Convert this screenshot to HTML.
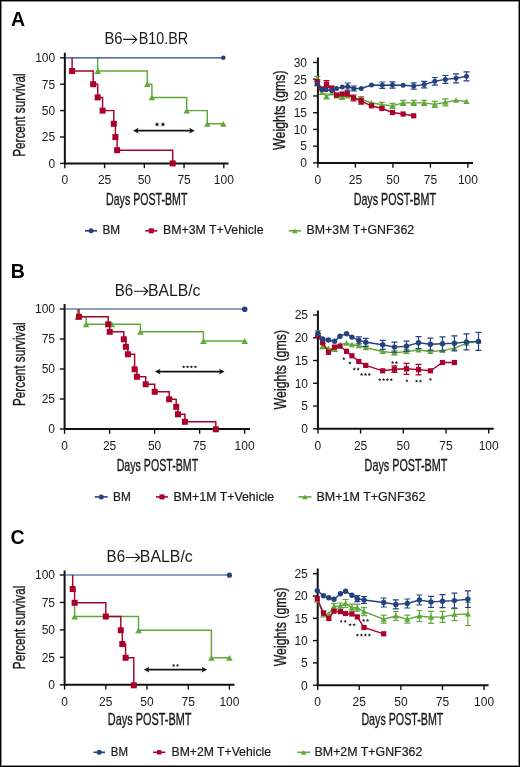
<!DOCTYPE html><html><head><meta charset="utf-8"><style>html,body{margin:0;padding:0;background:#fff;width:520px;height:767px;overflow:hidden}svg{display:block;will-change:transform}text{font-family:"Liberation Sans",sans-serif}</style></head><body>
<svg width="520" height="767" viewBox="0 0 520 767">
<rect x="0" y="0" width="520" height="767" fill="#fff"/>
<text x="11" y="25.8" font-size="19.5" font-weight="bold" fill="#000">A</text>
<text x="104.4" y="43.8" font-size="15.8" textLength="18.1" lengthAdjust="spacingAndGlyphs" fill="#1a1a1a">B6</text>
<path d="M123.2 39.4H136.3M132.5 35.2L136.7 39.4L132.5 43.6" fill="none" stroke="#1a1a1a" stroke-width="1.15"/>
<text x="138.7" y="43.8" font-size="15.8" textLength="49.5" lengthAdjust="spacingAndGlyphs" fill="#1a1a1a">B10.BR</text>
<path d="M64.85 52.8V163.4H228.5" fill="none" stroke="#111" stroke-width="2"/>
<path d="M60.05 163.4H64.85" stroke="#111" stroke-width="1.4"/>
<text x="55.2" y="167.7" font-size="12" text-anchor="end" fill="#1a1a1a">0</text>
<path d="M60.05 137H64.85" stroke="#111" stroke-width="1.4"/>
<text x="55.2" y="141.3" font-size="12" text-anchor="end" fill="#1a1a1a">25</text>
<path d="M60.05 110.6H64.85" stroke="#111" stroke-width="1.4"/>
<text x="55.2" y="114.9" font-size="12" text-anchor="end" fill="#1a1a1a">50</text>
<path d="M60.05 84.2H64.85" stroke="#111" stroke-width="1.4"/>
<text x="55.2" y="88.5" font-size="12" text-anchor="end" fill="#1a1a1a">75</text>
<path d="M60.05 57.8H64.85" stroke="#111" stroke-width="1.4"/>
<text x="55.2" y="62.1" font-size="12" text-anchor="end" fill="#1a1a1a">100</text>
<path d="M64.85 163.4V168.2" stroke="#111" stroke-width="1.4"/>
<text x="64.85" y="184.2" font-size="12" text-anchor="middle" fill="#1a1a1a">0</text>
<path d="M104.59 163.4V168.2" stroke="#111" stroke-width="1.4"/>
<text x="104.59" y="184.2" font-size="12" text-anchor="middle" fill="#1a1a1a">25</text>
<path d="M144.32 163.4V168.2" stroke="#111" stroke-width="1.4"/>
<text x="144.32" y="184.2" font-size="12" text-anchor="middle" fill="#1a1a1a">50</text>
<path d="M184.06 163.4V168.2" stroke="#111" stroke-width="1.4"/>
<text x="184.06" y="184.2" font-size="12" text-anchor="middle" fill="#1a1a1a">75</text>
<path d="M223.8 163.4V168.2" stroke="#111" stroke-width="1.4"/>
<text x="223.8" y="184.2" font-size="12" text-anchor="middle" fill="#1a1a1a">100</text>
<text transform="translate(24.6 115.1) rotate(-90)" font-size="16.4" textLength="83.4" lengthAdjust="spacingAndGlyphs" text-anchor="middle" fill="#1a1a1a" stroke="#1a1a1a" stroke-width="0.35">Percent survival</text>
<text x="146.7" y="205" font-size="16.4" textLength="81.4" lengthAdjust="spacingAndGlyphs" text-anchor="middle" fill="#1a1a1a" stroke="#1a1a1a" stroke-width="0.35">Days POST-BMT</text>
<polyline points="97.7,57.8 97.7,57.8 97.7,71 147.3,71 147.3,84.2 151.9,84.2 151.9,97.4 186.7,97.4 186.7,110.6 207.3,110.6 207.3,123.8 223.3,123.8" fill="none" stroke="#62a83a" stroke-width="1.45" stroke-linejoin="miter"/>
<path d="M94.4 73.9L101 73.9L97.7 68.1Z" fill="#62a83a"/>
<path d="M144 87.1L150.6 87.1L147.3 81.3Z" fill="#62a83a"/>
<path d="M148.6 100.3L155.2 100.3L151.9 94.5Z" fill="#62a83a"/>
<path d="M183.4 113.5L190 113.5L186.7 107.7Z" fill="#62a83a"/>
<path d="M204 126.7L210.6 126.7L207.3 120.9Z" fill="#62a83a"/>
<path d="M220 126.7L226.6 126.7L223.3 120.9Z" fill="#62a83a"/>
<polyline points="72.1,57.8 72.1,57.8 72.1,71 93.2,71 93.2,84.2 97.7,84.2 97.7,97.4 102.6,97.4 102.6,110.6 113.8,110.6 113.8,123.8 115.4,123.8 115.4,137 117.1,137 117.1,150.2 172.7,150.2 172.7,163.4" fill="none" stroke="#a9002c" stroke-width="1.45" stroke-linejoin="miter"/>
<rect x="69.1" y="68" width="6" height="6" fill="#a9002c"/>
<rect x="90.2" y="81.2" width="6" height="6" fill="#a9002c"/>
<rect x="94.7" y="94.4" width="6" height="6" fill="#a9002c"/>
<rect x="99.6" y="107.6" width="6" height="6" fill="#a9002c"/>
<rect x="110.8" y="120.8" width="6" height="6" fill="#a9002c"/>
<rect x="112.4" y="134" width="6" height="6" fill="#a9002c"/>
<rect x="114.1" y="147.2" width="6" height="6" fill="#a9002c"/>
<rect x="169.7" y="160.4" width="6" height="6" fill="#a9002c"/>
<path d="M64.85 57.8H223.3" stroke="#24427f" stroke-width="1.15"/>
<circle cx="223.3" cy="57.8" r="2.3" fill="#24427f"/>
<path d="M136 130.7H191.8" stroke="#111" stroke-width="1.8"/>
<path d="M133 130.7L138.6 127.8L137.3 130.7L138.6 133.6Z" fill="#111"/>
<path d="M194.8 130.7L189.2 127.8L190.5 130.7L189.2 133.6Z" fill="#111"/>
<polygon points="157.05,122 157.71,123.59 159.43,123.73 158.12,124.85 158.52,126.52 157.05,125.62 155.58,126.52 155.98,124.85 154.67,123.73 156.39,123.59" fill="#1a1a1a"/>
<polygon points="162.95,122 163.61,123.59 165.33,123.73 164.02,124.85 164.42,126.52 162.95,125.62 161.48,126.52 161.88,124.85 160.57,123.73 162.29,123.59" fill="#1a1a1a"/>
<path d="M317.9 57.5V162.9H473" fill="none" stroke="#111" stroke-width="2"/>
<path d="M313.1 162.9H317.9" stroke="#111" stroke-width="1.4"/>
<text x="307" y="167.2" font-size="12" text-anchor="end" fill="#1a1a1a">0</text>
<path d="M313.1 146.17H317.9" stroke="#111" stroke-width="1.4"/>
<text x="307" y="150.47" font-size="12" text-anchor="end" fill="#1a1a1a">5</text>
<path d="M313.1 129.43H317.9" stroke="#111" stroke-width="1.4"/>
<text x="307" y="133.73" font-size="12" text-anchor="end" fill="#1a1a1a">10</text>
<path d="M313.1 112.7H317.9" stroke="#111" stroke-width="1.4"/>
<text x="307" y="117" font-size="12" text-anchor="end" fill="#1a1a1a">15</text>
<path d="M313.1 95.96H317.9" stroke="#111" stroke-width="1.4"/>
<text x="307" y="100.26" font-size="12" text-anchor="end" fill="#1a1a1a">20</text>
<path d="M313.1 79.23H317.9" stroke="#111" stroke-width="1.4"/>
<text x="307" y="83.53" font-size="12" text-anchor="end" fill="#1a1a1a">25</text>
<path d="M313.1 62.49H317.9" stroke="#111" stroke-width="1.4"/>
<text x="307" y="66.79" font-size="12" text-anchor="end" fill="#1a1a1a">30</text>
<path d="M317.9 162.9V167.7" stroke="#111" stroke-width="1.4"/>
<text x="317.9" y="184.2" font-size="12" text-anchor="middle" fill="#1a1a1a">0</text>
<path d="M355.4 162.9V167.7" stroke="#111" stroke-width="1.4"/>
<text x="355.4" y="184.2" font-size="12" text-anchor="middle" fill="#1a1a1a">25</text>
<path d="M392.9 162.9V167.7" stroke="#111" stroke-width="1.4"/>
<text x="392.9" y="184.2" font-size="12" text-anchor="middle" fill="#1a1a1a">50</text>
<path d="M430.4 162.9V167.7" stroke="#111" stroke-width="1.4"/>
<text x="430.4" y="184.2" font-size="12" text-anchor="middle" fill="#1a1a1a">75</text>
<path d="M467.9 162.9V167.7" stroke="#111" stroke-width="1.4"/>
<text x="467.9" y="184.2" font-size="12" text-anchor="middle" fill="#1a1a1a">100</text>
<text transform="translate(284.6 110.15) rotate(-90)" font-size="16.4" textLength="79.7" lengthAdjust="spacingAndGlyphs" text-anchor="middle" fill="#1a1a1a" stroke="#1a1a1a" stroke-width="0.35">Weights (gms)</text>
<text x="394.8" y="205" font-size="16.4" textLength="82.3" lengthAdjust="spacingAndGlyphs" text-anchor="middle" fill="#1a1a1a" stroke="#1a1a1a" stroke-width="0.35">Days POST-BMT</text>
<polyline points="317.3,78.8 321.9,92.5 326.5,96.5 331.9,93 336.5,96 342,97.3 347.3,96 353.5,97.5 361.2,99.5 371.5,102.7 381.9,104.8 392.5,105.8 403.1,102.9 413.7,102.9 424.2,102.9 434.8,104.4 445.4,102.3 456,100.4 466.5,101.5" fill="none" stroke="#62a83a" stroke-width="1.4" stroke-linejoin="miter"/>
<path d="M317.3 76.3V81.3M314.3 76.3H320.3M314.3 81.3H320.3" stroke="#62a83a" stroke-width="1.2" fill="none"/>
<path d="M326.5 94V99M323.5 94H329.5M323.5 99H329.5" stroke="#62a83a" stroke-width="1.2" fill="none"/>
<path d="M342 95.3V99.3M339 95.3H345M339 99.3H345" stroke="#62a83a" stroke-width="1.2" fill="none"/>
<path d="M361.2 96.5V102.5M358.2 96.5H364.2M358.2 102.5H364.2" stroke="#62a83a" stroke-width="1.2" fill="none"/>
<path d="M381.9 102.3V107.3M378.9 102.3H384.9M378.9 107.3H384.9" stroke="#62a83a" stroke-width="1.2" fill="none"/>
<path d="M392.5 103.3V108.3M389.5 103.3H395.5M389.5 108.3H395.5" stroke="#62a83a" stroke-width="1.2" fill="none"/>
<path d="M403.1 100.4V105.4M400.1 100.4H406.1M400.1 105.4H406.1" stroke="#62a83a" stroke-width="1.2" fill="none"/>
<path d="M413.7 100.4V105.4M410.7 100.4H416.7M410.7 105.4H416.7" stroke="#62a83a" stroke-width="1.2" fill="none"/>
<path d="M424.2 100.4V105.4M421.2 100.4H427.2M421.2 105.4H427.2" stroke="#62a83a" stroke-width="1.2" fill="none"/>
<path d="M434.8 101.4V107.4M431.8 101.4H437.8M431.8 107.4H437.8" stroke="#62a83a" stroke-width="1.2" fill="none"/>
<path d="M445.4 98.8V105.8M442.4 98.8H448.4M442.4 105.8H448.4" stroke="#62a83a" stroke-width="1.2" fill="none"/>
<path d="M314.2 81.23L320.4 81.23L317.3 75.83Z" fill="#62a83a"/>
<path d="M318.8 94.93L325 94.93L321.9 89.53Z" fill="#62a83a"/>
<path d="M323.4 98.93L329.6 98.93L326.5 93.53Z" fill="#62a83a"/>
<path d="M328.8 95.43L335 95.43L331.9 90.03Z" fill="#62a83a"/>
<path d="M333.4 98.43L339.6 98.43L336.5 93.03Z" fill="#62a83a"/>
<path d="M338.9 99.73L345.1 99.73L342 94.33Z" fill="#62a83a"/>
<path d="M344.2 98.43L350.4 98.43L347.3 93.03Z" fill="#62a83a"/>
<path d="M350.4 99.93L356.6 99.93L353.5 94.53Z" fill="#62a83a"/>
<path d="M358.1 101.93L364.3 101.93L361.2 96.53Z" fill="#62a83a"/>
<path d="M368.4 105.13L374.6 105.13L371.5 99.73Z" fill="#62a83a"/>
<path d="M378.8 107.23L385 107.23L381.9 101.83Z" fill="#62a83a"/>
<path d="M389.4 108.23L395.6 108.23L392.5 102.83Z" fill="#62a83a"/>
<path d="M400 105.33L406.2 105.33L403.1 99.93Z" fill="#62a83a"/>
<path d="M410.6 105.33L416.8 105.33L413.7 99.93Z" fill="#62a83a"/>
<path d="M421.1 105.33L427.3 105.33L424.2 99.93Z" fill="#62a83a"/>
<path d="M431.7 106.83L437.9 106.83L434.8 101.43Z" fill="#62a83a"/>
<path d="M442.3 104.73L448.5 104.73L445.4 99.33Z" fill="#62a83a"/>
<path d="M452.9 102.83L459.1 102.83L456 97.43Z" fill="#62a83a"/>
<path d="M463.4 103.93L469.6 103.93L466.5 98.53Z" fill="#62a83a"/>
<polyline points="317.3,82.7 321.9,89 326.5,84.2 331.9,88 336.5,95 342,94 347.3,93.5 353.5,98 361.2,101.2 371.5,105.8 381.9,108.5 392.5,112.5 403.1,114 413.7,115.8" fill="none" stroke="#a9002c" stroke-width="1.4" stroke-linejoin="miter"/>
<path d="M317.3 79.7V85.7M314.3 79.7H320.3M314.3 85.7H320.3" stroke="#a9002c" stroke-width="1.2" fill="none"/>
<path d="M326.5 80.7V87.7M323.5 80.7H329.5M323.5 87.7H329.5" stroke="#a9002c" stroke-width="1.2" fill="none"/>
<path d="M347.3 91V96M344.3 91H350.3M344.3 96H350.3" stroke="#a9002c" stroke-width="1.2" fill="none"/>
<path d="M353.5 95V101M350.5 95H356.5M350.5 101H356.5" stroke="#a9002c" stroke-width="1.2" fill="none"/>
<path d="M361.2 98.2V104.2M358.2 98.2H364.2M358.2 104.2H364.2" stroke="#a9002c" stroke-width="1.2" fill="none"/>
<rect x="314.7" y="80.1" width="5.2" height="5.2" fill="#a9002c"/>
<rect x="319.3" y="86.4" width="5.2" height="5.2" fill="#a9002c"/>
<rect x="323.9" y="81.6" width="5.2" height="5.2" fill="#a9002c"/>
<rect x="329.3" y="85.4" width="5.2" height="5.2" fill="#a9002c"/>
<rect x="333.9" y="92.4" width="5.2" height="5.2" fill="#a9002c"/>
<rect x="339.4" y="91.4" width="5.2" height="5.2" fill="#a9002c"/>
<rect x="344.7" y="90.9" width="5.2" height="5.2" fill="#a9002c"/>
<rect x="350.9" y="95.4" width="5.2" height="5.2" fill="#a9002c"/>
<rect x="358.6" y="98.6" width="5.2" height="5.2" fill="#a9002c"/>
<rect x="368.9" y="103.2" width="5.2" height="5.2" fill="#a9002c"/>
<rect x="379.3" y="105.9" width="5.2" height="5.2" fill="#a9002c"/>
<rect x="389.9" y="109.9" width="5.2" height="5.2" fill="#a9002c"/>
<rect x="400.5" y="111.4" width="5.2" height="5.2" fill="#a9002c"/>
<rect x="411.1" y="113.2" width="5.2" height="5.2" fill="#a9002c"/>
<polyline points="317.3,83.7 322.1,89.4 326,89.8 331.7,90.4 336.5,88.5 342.3,87.1 347.7,86.5 353.8,88.5 361.2,88.5 371.5,85 382.3,85.2 392.5,85 403.1,85.2 413.7,86 424.2,84.6 434.8,81.3 445.4,79.4 456,78.3 466.5,76.3" fill="none" stroke="#24427f" stroke-width="1.4" stroke-linejoin="miter"/>
<path d="M347.7 83V90M344.7 83H350.7M344.7 90H350.7" stroke="#24427f" stroke-width="1.2" fill="none"/>
<path d="M353.8 86V91M350.8 86H356.8M350.8 91H356.8" stroke="#24427f" stroke-width="1.2" fill="none"/>
<path d="M382.3 82V88.4M379.3 82H385.3M379.3 88.4H385.3" stroke="#24427f" stroke-width="1.2" fill="none"/>
<path d="M392.5 81.8V88.2M389.5 81.8H395.5M389.5 88.2H395.5" stroke="#24427f" stroke-width="1.2" fill="none"/>
<path d="M413.7 82.8V89.2M410.7 82.8H416.7M410.7 89.2H416.7" stroke="#24427f" stroke-width="1.2" fill="none"/>
<path d="M424.2 81.3V87.9M421.2 81.3H427.2M421.2 87.9H427.2" stroke="#24427f" stroke-width="1.2" fill="none"/>
<path d="M434.8 77.5V85.1M431.8 77.5H437.8M431.8 85.1H437.8" stroke="#24427f" stroke-width="1.2" fill="none"/>
<path d="M445.4 75.5V83.3M442.4 75.5H448.4M442.4 83.3H448.4" stroke="#24427f" stroke-width="1.2" fill="none"/>
<path d="M456 73.8V82.8M453 73.8H459M453 82.8H459" stroke="#24427f" stroke-width="1.2" fill="none"/>
<path d="M466.5 71.8V80.8M463.5 71.8H469.5M463.5 80.8H469.5" stroke="#24427f" stroke-width="1.2" fill="none"/>
<circle cx="317.3" cy="83.7" r="2.5" fill="#24427f"/>
<circle cx="322.1" cy="89.4" r="2.5" fill="#24427f"/>
<circle cx="326" cy="89.8" r="2.5" fill="#24427f"/>
<circle cx="331.7" cy="90.4" r="2.5" fill="#24427f"/>
<circle cx="336.5" cy="88.5" r="2.5" fill="#24427f"/>
<circle cx="342.3" cy="87.1" r="2.5" fill="#24427f"/>
<circle cx="347.7" cy="86.5" r="2.5" fill="#24427f"/>
<circle cx="353.8" cy="88.5" r="2.5" fill="#24427f"/>
<circle cx="361.2" cy="88.5" r="2.5" fill="#24427f"/>
<circle cx="371.5" cy="85" r="2.5" fill="#24427f"/>
<circle cx="382.3" cy="85.2" r="2.5" fill="#24427f"/>
<circle cx="392.5" cy="85" r="2.5" fill="#24427f"/>
<circle cx="403.1" cy="85.2" r="2.5" fill="#24427f"/>
<circle cx="413.7" cy="86" r="2.5" fill="#24427f"/>
<circle cx="424.2" cy="84.6" r="2.5" fill="#24427f"/>
<circle cx="434.8" cy="81.3" r="2.5" fill="#24427f"/>
<circle cx="445.4" cy="79.4" r="2.5" fill="#24427f"/>
<circle cx="456" cy="78.3" r="2.5" fill="#24427f"/>
<circle cx="466.5" cy="76.3" r="2.5" fill="#24427f"/>
<path d="M85 230.8H97.1" stroke="#24427f" stroke-width="1.6"/>
<circle cx="91.05" cy="230.8" r="2.5" fill="#24427f"/>
<text x="102.5" y="234.4" font-size="12.8" textLength="17.7" lengthAdjust="spacingAndGlyphs" fill="#1a1a1a" stroke="#1a1a1a" stroke-width="0.2">BM</text>
<path d="M145.2 230.8H157.3" stroke="#a9002c" stroke-width="1.6"/>
<rect x="148.75" y="228.3" width="5" height="5" fill="#a9002c"/>
<text x="163" y="234.4" font-size="12.8" textLength="100.5" lengthAdjust="spacingAndGlyphs" fill="#1a1a1a" stroke="#1a1a1a" stroke-width="0.2">BM+3M T+Vehicle</text>
<path d="M288.75 230.8H301" stroke="#62a83a" stroke-width="1.6"/>
<path d="M292.07 233.2L297.68 233.2L294.88 228.4Z" fill="#62a83a"/>
<text x="306.5" y="234.4" font-size="12.8" textLength="107.7" lengthAdjust="spacingAndGlyphs" fill="#1a1a1a" stroke="#1a1a1a" stroke-width="0.2">BM+3M T+GNF362</text>
<text x="10.7" y="277.9" font-size="19.5" font-weight="bold" fill="#000">B</text>
<text x="114.7" y="295.6" font-size="15.8" textLength="18.5" lengthAdjust="spacingAndGlyphs" fill="#1a1a1a">B6</text>
<path d="M133.9 291.2H147.4M143.6 287L147.8 291.2L143.6 295.4" fill="none" stroke="#1a1a1a" stroke-width="1.15"/>
<text x="147.9" y="295.6" font-size="15.8" textLength="52.6" lengthAdjust="spacingAndGlyphs" fill="#1a1a1a">BALB/c</text>
<path d="M64.6 304V429H250" fill="none" stroke="#111" stroke-width="2"/>
<path d="M59.8 429H64.6" stroke="#111" stroke-width="1.4"/>
<text x="55" y="433.3" font-size="12" text-anchor="end" fill="#1a1a1a">0</text>
<path d="M59.8 399H64.6" stroke="#111" stroke-width="1.4"/>
<text x="55" y="403.3" font-size="12" text-anchor="end" fill="#1a1a1a">25</text>
<path d="M59.8 369H64.6" stroke="#111" stroke-width="1.4"/>
<text x="55" y="373.3" font-size="12" text-anchor="end" fill="#1a1a1a">50</text>
<path d="M59.8 339H64.6" stroke="#111" stroke-width="1.4"/>
<text x="55" y="343.3" font-size="12" text-anchor="end" fill="#1a1a1a">75</text>
<path d="M59.8 309H64.6" stroke="#111" stroke-width="1.4"/>
<text x="55" y="313.3" font-size="12" text-anchor="end" fill="#1a1a1a">100</text>
<path d="M64.6 429V433.8" stroke="#111" stroke-width="1.4"/>
<text x="64.6" y="450.2" font-size="12" text-anchor="middle" fill="#1a1a1a">0</text>
<path d="M109.6 429V433.8" stroke="#111" stroke-width="1.4"/>
<text x="109.6" y="450.2" font-size="12" text-anchor="middle" fill="#1a1a1a">25</text>
<path d="M154.6 429V433.8" stroke="#111" stroke-width="1.4"/>
<text x="154.6" y="450.2" font-size="12" text-anchor="middle" fill="#1a1a1a">50</text>
<path d="M199.6 429V433.8" stroke="#111" stroke-width="1.4"/>
<text x="199.6" y="450.2" font-size="12" text-anchor="middle" fill="#1a1a1a">75</text>
<path d="M244.6 429V433.8" stroke="#111" stroke-width="1.4"/>
<text x="244.6" y="450.2" font-size="12" text-anchor="middle" fill="#1a1a1a">100</text>
<text transform="translate(25.2 364.2) rotate(-90)" font-size="16.4" textLength="83.7" lengthAdjust="spacingAndGlyphs" text-anchor="middle" fill="#1a1a1a" stroke="#1a1a1a" stroke-width="0.35">Percent survival</text>
<text x="157.4" y="471" font-size="16.4" textLength="81.5" lengthAdjust="spacingAndGlyphs" text-anchor="middle" fill="#1a1a1a" stroke="#1a1a1a" stroke-width="0.35">Days POST-BMT</text>
<polyline points="77.6,309 77.6,309 77.6,316.8 86.1,316.8 86.1,324.3 140.4,324.3 140.4,331.8 203.4,331.8 203.4,341 244.7,341" fill="none" stroke="#62a83a" stroke-width="1.45" stroke-linejoin="miter"/>
<path d="M74.3 319.7L80.9 319.7L77.6 313.9Z" fill="#62a83a"/>
<path d="M82.8 327.2L89.4 327.2L86.1 321.4Z" fill="#62a83a"/>
<path d="M137.1 334.7L143.7 334.7L140.4 328.9Z" fill="#62a83a"/>
<path d="M200.1 343.9L206.7 343.9L203.4 338.1Z" fill="#62a83a"/>
<path d="M241.4 343.9L248 343.9L244.7 338.1Z" fill="#62a83a"/>
<path d="M108.6 327.2L115.2 327.2L111.9 321.4Z" fill="#62a83a"/>
<polyline points="79,309 79,309 79,316.8 108.2,316.8 108.2,324.3 109.7,324.3 109.7,331.8 123.8,331.8 123.8,339.3 125.9,339.3 125.9,346.8 127.9,346.8 127.9,354.3 134.6,354.3 134.6,369.3 136.9,369.3 136.9,376.8 145.7,376.8 145.7,384.3 154.7,384.3 154.7,391.8 169.2,391.8 169.2,399.3 176.2,399.3 176.2,406.8 178,406.8 178,414.3 184.9,414.3 184.9,421.8 215.8,421.8 215.8,429.3" fill="none" stroke="#a9002c" stroke-width="1.45" stroke-linejoin="miter"/>
<rect x="76" y="313.8" width="6" height="6" fill="#a9002c"/>
<rect x="105.2" y="321.3" width="6" height="6" fill="#a9002c"/>
<rect x="106.7" y="328.8" width="6" height="6" fill="#a9002c"/>
<rect x="120.8" y="336.3" width="6" height="6" fill="#a9002c"/>
<rect x="122.9" y="343.8" width="6" height="6" fill="#a9002c"/>
<rect x="124.9" y="351.3" width="6" height="6" fill="#a9002c"/>
<rect x="131.6" y="366.3" width="6" height="6" fill="#a9002c"/>
<rect x="133.9" y="373.8" width="6" height="6" fill="#a9002c"/>
<rect x="142.7" y="381.3" width="6" height="6" fill="#a9002c"/>
<rect x="151.7" y="388.8" width="6" height="6" fill="#a9002c"/>
<rect x="166.2" y="396.3" width="6" height="6" fill="#a9002c"/>
<rect x="173.2" y="403.8" width="6" height="6" fill="#a9002c"/>
<rect x="175" y="411.3" width="6" height="6" fill="#a9002c"/>
<rect x="181.9" y="418.8" width="6" height="6" fill="#a9002c"/>
<rect x="212.8" y="426.3" width="6" height="6" fill="#a9002c"/>
<path d="M64.6 309H244.7" stroke="#24427f" stroke-width="1.15"/>
<circle cx="244.7" cy="309.2" r="2.8" fill="#24427f"/>
<path d="M157.9 371.6H221.6" stroke="#111" stroke-width="1.8"/>
<path d="M154.9 371.6L160.5 368.7L159.2 371.6L160.5 374.5Z" fill="#111"/>
<path d="M224.6 371.6L219 368.7L220.3 371.6L219 374.5Z" fill="#111"/>
<polygon points="183.65,365.15 184.11,366.26 185.31,366.36 184.4,367.14 184.68,368.32 183.65,367.69 182.62,368.32 182.9,367.14 181.99,366.36 183.19,366.26" fill="#1a1a1a"/>
<polygon points="187.55,365.15 188.01,366.26 189.21,366.36 188.3,367.14 188.58,368.32 187.55,367.69 186.52,368.32 186.8,367.14 185.89,366.36 187.09,366.26" fill="#1a1a1a"/>
<polygon points="191.45,365.15 191.91,366.26 193.11,366.36 192.2,367.14 192.48,368.32 191.45,367.69 190.42,368.32 190.7,367.14 189.79,366.36 190.99,366.26" fill="#1a1a1a"/>
<polygon points="195.35,365.15 195.81,366.26 197.01,366.36 196.1,367.14 196.38,368.32 195.35,367.69 194.32,368.32 194.6,367.14 193.69,366.36 194.89,366.26" fill="#1a1a1a"/>
<path d="M317.9 310.5V428.8H493.7" fill="none" stroke="#111" stroke-width="2"/>
<path d="M313.1 428.8H317.9" stroke="#111" stroke-width="1.4"/>
<text x="308" y="433.1" font-size="12" text-anchor="end" fill="#1a1a1a">0</text>
<path d="M313.1 406.04H317.9" stroke="#111" stroke-width="1.4"/>
<text x="308" y="410.34" font-size="12" text-anchor="end" fill="#1a1a1a">5</text>
<path d="M313.1 383.28H317.9" stroke="#111" stroke-width="1.4"/>
<text x="308" y="387.58" font-size="12" text-anchor="end" fill="#1a1a1a">10</text>
<path d="M313.1 360.52H317.9" stroke="#111" stroke-width="1.4"/>
<text x="308" y="364.82" font-size="12" text-anchor="end" fill="#1a1a1a">15</text>
<path d="M313.1 337.76H317.9" stroke="#111" stroke-width="1.4"/>
<text x="308" y="342.06" font-size="12" text-anchor="end" fill="#1a1a1a">20</text>
<path d="M313.1 315H317.9" stroke="#111" stroke-width="1.4"/>
<text x="308" y="319.3" font-size="12" text-anchor="end" fill="#1a1a1a">25</text>
<path d="M317.9 428.8V433.6" stroke="#111" stroke-width="1.4"/>
<text x="317.9" y="450.2" font-size="12" text-anchor="middle" fill="#1a1a1a">0</text>
<path d="M360.6 428.8V433.6" stroke="#111" stroke-width="1.4"/>
<text x="360.6" y="450.2" font-size="12" text-anchor="middle" fill="#1a1a1a">25</text>
<path d="M403.3 428.8V433.6" stroke="#111" stroke-width="1.4"/>
<text x="403.3" y="450.2" font-size="12" text-anchor="middle" fill="#1a1a1a">50</text>
<path d="M446 428.8V433.6" stroke="#111" stroke-width="1.4"/>
<text x="446" y="450.2" font-size="12" text-anchor="middle" fill="#1a1a1a">75</text>
<path d="M488.7 428.8V433.6" stroke="#111" stroke-width="1.4"/>
<text x="488.7" y="450.2" font-size="12" text-anchor="middle" fill="#1a1a1a">100</text>
<text transform="translate(285.5 369.7) rotate(-90)" font-size="16.4" textLength="79.4" lengthAdjust="spacingAndGlyphs" text-anchor="middle" fill="#1a1a1a" stroke="#1a1a1a" stroke-width="0.35">Weights (gms)</text>
<text x="406" y="470.8" font-size="16.4" textLength="82.8" lengthAdjust="spacingAndGlyphs" text-anchor="middle" fill="#1a1a1a" stroke="#1a1a1a" stroke-width="0.35">Days POST-BMT</text>
<polyline points="317.9,333.5 322.7,346.2 328.5,348.5 334.6,349 340,344.6 346.5,343.3 351.9,344.8 358.8,345.8 365.8,347.7 382.7,351.5 394.4,352.9 406.5,351.5 418.5,350 430.4,351.5 442.5,350.6 454.4,348.1 466.5,343.3 478.5,341.3" fill="none" stroke="#62a83a" stroke-width="1.4" stroke-linejoin="miter"/>
<path d="M317.9 330.5V336.5M314.9 330.5H320.9M314.9 336.5H320.9" stroke="#62a83a" stroke-width="1.2" fill="none"/>
<path d="M322.7 343.7V348.7M319.7 343.7H325.7M319.7 348.7H325.7" stroke="#62a83a" stroke-width="1.2" fill="none"/>
<path d="M334.6 346.5V351.5M331.6 346.5H337.6M331.6 351.5H337.6" stroke="#62a83a" stroke-width="1.2" fill="none"/>
<path d="M382.7 349.5V353.5M379.7 349.5H385.7M379.7 353.5H385.7" stroke="#62a83a" stroke-width="1.2" fill="none"/>
<path d="M394.4 350.9V354.9M391.4 350.9H397.4M391.4 354.9H397.4" stroke="#62a83a" stroke-width="1.2" fill="none"/>
<path d="M406.5 349.5V353.5M403.5 349.5H409.5M403.5 353.5H409.5" stroke="#62a83a" stroke-width="1.2" fill="none"/>
<path d="M314.8 335.93L321 335.93L317.9 330.53Z" fill="#62a83a"/>
<path d="M319.6 348.63L325.8 348.63L322.7 343.23Z" fill="#62a83a"/>
<path d="M325.4 350.93L331.6 350.93L328.5 345.53Z" fill="#62a83a"/>
<path d="M331.5 351.43L337.7 351.43L334.6 346.03Z" fill="#62a83a"/>
<path d="M336.9 347.03L343.1 347.03L340 341.63Z" fill="#62a83a"/>
<path d="M343.4 345.73L349.6 345.73L346.5 340.33Z" fill="#62a83a"/>
<path d="M348.8 347.23L355 347.23L351.9 341.83Z" fill="#62a83a"/>
<path d="M355.7 348.23L361.9 348.23L358.8 342.83Z" fill="#62a83a"/>
<path d="M362.7 350.13L368.9 350.13L365.8 344.73Z" fill="#62a83a"/>
<path d="M379.6 353.93L385.8 353.93L382.7 348.53Z" fill="#62a83a"/>
<path d="M391.3 355.33L397.5 355.33L394.4 349.93Z" fill="#62a83a"/>
<path d="M403.4 353.93L409.6 353.93L406.5 348.53Z" fill="#62a83a"/>
<path d="M415.4 352.43L421.6 352.43L418.5 347.03Z" fill="#62a83a"/>
<path d="M427.3 353.93L433.5 353.93L430.4 348.53Z" fill="#62a83a"/>
<path d="M439.4 353.03L445.6 353.03L442.5 347.63Z" fill="#62a83a"/>
<path d="M451.3 350.53L457.5 350.53L454.4 345.13Z" fill="#62a83a"/>
<path d="M463.4 345.73L469.6 345.73L466.5 340.33Z" fill="#62a83a"/>
<path d="M475.4 343.73L481.6 343.73L478.5 338.33Z" fill="#62a83a"/>
<polyline points="317.9,335.6 322.7,342.7 328.5,352.3 334.6,347.1 340,346.2 346.5,351.3 351.9,355.8 358.8,361.5 365.8,365.4 382.7,370.8 394.4,369.2 406.5,368.8 418.5,369.6 430.4,370.8 442.5,362.5 454.4,362.5" fill="none" stroke="#a9002c" stroke-width="1.4" stroke-linejoin="miter"/>
<path d="M394.4 365.9V372.5M391.4 365.9H397.4M391.4 372.5H397.4" stroke="#a9002c" stroke-width="1.2" fill="none"/>
<path d="M406.5 363.3V374.3M403.5 363.3H409.5M403.5 374.3H409.5" stroke="#a9002c" stroke-width="1.2" fill="none"/>
<path d="M418.5 364.4V374.8M415.5 364.4H421.5M415.5 374.8H421.5" stroke="#a9002c" stroke-width="1.2" fill="none"/>
<rect x="315.3" y="333" width="5.2" height="5.2" fill="#a9002c"/>
<rect x="320.1" y="340.1" width="5.2" height="5.2" fill="#a9002c"/>
<rect x="325.9" y="349.7" width="5.2" height="5.2" fill="#a9002c"/>
<rect x="332" y="344.5" width="5.2" height="5.2" fill="#a9002c"/>
<rect x="337.4" y="343.6" width="5.2" height="5.2" fill="#a9002c"/>
<rect x="343.9" y="348.7" width="5.2" height="5.2" fill="#a9002c"/>
<rect x="349.3" y="353.2" width="5.2" height="5.2" fill="#a9002c"/>
<rect x="356.2" y="358.9" width="5.2" height="5.2" fill="#a9002c"/>
<rect x="363.2" y="362.8" width="5.2" height="5.2" fill="#a9002c"/>
<rect x="380.1" y="368.2" width="5.2" height="5.2" fill="#a9002c"/>
<rect x="391.8" y="366.6" width="5.2" height="5.2" fill="#a9002c"/>
<rect x="403.9" y="366.2" width="5.2" height="5.2" fill="#a9002c"/>
<rect x="415.9" y="367" width="5.2" height="5.2" fill="#a9002c"/>
<rect x="427.8" y="368.2" width="5.2" height="5.2" fill="#a9002c"/>
<rect x="439.9" y="359.9" width="5.2" height="5.2" fill="#a9002c"/>
<rect x="451.8" y="359.9" width="5.2" height="5.2" fill="#a9002c"/>
<polyline points="317.9,333.3 322.7,339 328.5,340 334.6,341.3 340,336.2 346.5,333.7 351.9,337.1 358.8,340.4 365.8,342.3 382.7,344.8 394.4,347.1 406.5,346.2 418.5,342.7 430.4,344.2 442.5,343.8 454.4,343.3 466.5,341.9 478.5,341.4" fill="none" stroke="#24427f" stroke-width="1.4" stroke-linejoin="miter"/>
<path d="M358.8 336.9V343.9M355.8 336.9H361.8M355.8 343.9H361.8" stroke="#24427f" stroke-width="1.2" fill="none"/>
<path d="M365.8 338.3V346.3M362.8 338.3H368.8M362.8 346.3H368.8" stroke="#24427f" stroke-width="1.2" fill="none"/>
<path d="M382.7 340.3V349.3M379.7 340.3H385.7M379.7 349.3H385.7" stroke="#24427f" stroke-width="1.2" fill="none"/>
<path d="M394.4 342.1V352.1M391.4 342.1H397.4M391.4 352.1H397.4" stroke="#24427f" stroke-width="1.2" fill="none"/>
<path d="M406.5 341.2V351.2M403.5 341.2H409.5M403.5 351.2H409.5" stroke="#24427f" stroke-width="1.2" fill="none"/>
<path d="M418.5 336.7V348.7M415.5 336.7H421.5M415.5 348.7H421.5" stroke="#24427f" stroke-width="1.2" fill="none"/>
<path d="M430.4 338.2V350.2M427.4 338.2H433.4M427.4 350.2H433.4" stroke="#24427f" stroke-width="1.2" fill="none"/>
<path d="M442.5 336.8V350.8M439.5 336.8H445.5M439.5 350.8H445.5" stroke="#24427f" stroke-width="1.2" fill="none"/>
<path d="M454.4 335.8V350.8M451.4 335.8H457.4M451.4 350.8H457.4" stroke="#24427f" stroke-width="1.2" fill="none"/>
<path d="M466.5 333.9V349.9M463.5 333.9H469.5M463.5 349.9H469.5" stroke="#24427f" stroke-width="1.2" fill="none"/>
<path d="M478.5 332.4V350.4M475.5 332.4H481.5M475.5 350.4H481.5" stroke="#24427f" stroke-width="1.2" fill="none"/>
<circle cx="317.9" cy="333.3" r="2.7" fill="#24427f"/>
<circle cx="322.7" cy="339" r="2.7" fill="#24427f"/>
<circle cx="328.5" cy="340" r="2.7" fill="#24427f"/>
<circle cx="334.6" cy="341.3" r="2.7" fill="#24427f"/>
<circle cx="340" cy="336.2" r="2.7" fill="#24427f"/>
<circle cx="346.5" cy="333.7" r="2.7" fill="#24427f"/>
<circle cx="351.9" cy="337.1" r="2.7" fill="#24427f"/>
<circle cx="358.8" cy="340.4" r="2.7" fill="#24427f"/>
<circle cx="365.8" cy="342.3" r="2.7" fill="#24427f"/>
<circle cx="382.7" cy="344.8" r="2.7" fill="#24427f"/>
<circle cx="394.4" cy="347.1" r="2.7" fill="#24427f"/>
<circle cx="406.5" cy="346.2" r="2.7" fill="#24427f"/>
<circle cx="418.5" cy="342.7" r="2.7" fill="#24427f"/>
<circle cx="430.4" cy="344.2" r="2.7" fill="#24427f"/>
<circle cx="442.5" cy="343.8" r="2.7" fill="#24427f"/>
<circle cx="454.4" cy="343.3" r="2.7" fill="#24427f"/>
<circle cx="466.5" cy="341.9" r="2.7" fill="#24427f"/>
<circle cx="478.5" cy="341.4" r="2.7" fill="#24427f"/>
<polygon points="343.8,356.85 344.26,357.96 345.46,358.06 344.55,358.84 344.83,360.02 343.8,359.39 342.77,360.02 343.05,358.84 342.14,358.06 343.34,357.96" fill="#1a1a1a"/>
<polygon points="349.9,361.25 350.36,362.36 351.56,362.46 350.65,363.24 350.93,364.42 349.9,363.79 348.87,364.42 349.15,363.24 348.24,362.46 349.44,362.36" fill="#1a1a1a"/>
<polygon points="354.27,367.35 354.74,368.46 355.94,368.56 355.02,369.34 355.3,370.52 354.27,369.89 353.25,370.52 353.53,369.34 352.61,368.56 353.81,368.46" fill="#1a1a1a"/>
<polygon points="358.12,367.35 358.59,368.46 359.79,368.56 358.87,369.34 359.15,370.52 358.12,369.89 357.1,370.52 357.38,369.34 356.46,368.56 357.66,368.46" fill="#1a1a1a"/>
<polygon points="361.65,372.75 362.11,373.86 363.31,373.96 362.4,374.74 362.68,375.92 361.65,375.29 360.62,375.92 360.9,374.74 359.99,373.96 361.19,373.86" fill="#1a1a1a"/>
<polygon points="365.5,372.75 365.96,373.86 367.16,373.96 366.25,374.74 366.53,375.92 365.5,375.29 364.47,375.92 364.75,374.74 363.84,373.96 365.04,373.86" fill="#1a1a1a"/>
<polygon points="369.35,372.75 369.81,373.86 371.01,373.96 370.1,374.74 370.38,375.92 369.35,375.29 368.32,375.92 368.6,374.74 367.69,373.96 368.89,373.86" fill="#1a1a1a"/>
<polygon points="379.73,377.95 380.19,379.06 381.39,379.16 380.47,379.94 380.75,381.12 379.73,380.49 378.7,381.12 378.98,379.94 378.06,379.16 379.26,379.06" fill="#1a1a1a"/>
<polygon points="383.58,377.95 384.04,379.06 385.24,379.16 384.32,379.94 384.6,381.12 383.58,380.49 382.55,381.12 382.83,379.94 381.91,379.16 383.11,379.06" fill="#1a1a1a"/>
<polygon points="387.43,377.95 387.89,379.06 389.09,379.16 388.17,379.94 388.45,381.12 387.43,380.49 386.4,381.12 386.68,379.94 385.76,379.16 386.96,379.06" fill="#1a1a1a"/>
<polygon points="391.28,377.95 391.74,379.06 392.94,379.16 392.02,379.94 392.3,381.12 391.28,380.49 390.25,381.12 390.53,379.94 389.61,379.16 390.81,379.06" fill="#1a1a1a"/>
<polygon points="392.57,360.85 393.04,361.96 394.24,362.06 393.32,362.84 393.6,364.02 392.57,363.39 391.55,364.02 391.83,362.84 390.91,362.06 392.11,361.96" fill="#1a1a1a"/>
<polygon points="396.43,360.85 396.89,361.96 398.09,362.06 397.17,362.84 397.45,364.02 396.43,363.39 395.4,364.02 395.68,362.84 394.76,362.06 395.96,361.96" fill="#1a1a1a"/>
<polygon points="406.9,379.05 407.36,380.16 408.56,380.26 407.65,381.04 407.93,382.22 406.9,381.59 405.87,382.22 406.15,381.04 405.24,380.26 406.44,380.16" fill="#1a1a1a"/>
<polygon points="416.57,379.45 417.04,380.56 418.24,380.66 417.32,381.44 417.6,382.62 416.57,381.99 415.55,382.62 415.83,381.44 414.91,380.66 416.11,380.56" fill="#1a1a1a"/>
<polygon points="420.43,379.45 420.89,380.56 422.09,380.66 421.17,381.44 421.45,382.62 420.43,381.99 419.4,382.62 419.68,381.44 418.76,380.66 419.96,380.56" fill="#1a1a1a"/>
<polygon points="430.4,377.65 430.86,378.76 432.06,378.86 431.15,379.64 431.43,380.82 430.4,380.19 429.37,380.82 429.65,379.64 428.74,378.86 429.94,378.76" fill="#1a1a1a"/>
<path d="M94.8 496.9H107.7" stroke="#24427f" stroke-width="1.6"/>
<circle cx="101.25" cy="496.9" r="2.5" fill="#24427f"/>
<text x="113" y="500.5" font-size="12.8" textLength="17.8" lengthAdjust="spacingAndGlyphs" fill="#1a1a1a" stroke="#1a1a1a" stroke-width="0.2">BM</text>
<path d="M156 496.9H167.9" stroke="#a9002c" stroke-width="1.6"/>
<rect x="159.45" y="494.4" width="5" height="5" fill="#a9002c"/>
<text x="173.6" y="500.5" font-size="12.8" textLength="100.6" lengthAdjust="spacingAndGlyphs" fill="#1a1a1a" stroke="#1a1a1a" stroke-width="0.2">BM+1M T+Vehicle</text>
<path d="M298.5 496.9H311.5" stroke="#62a83a" stroke-width="1.6"/>
<path d="M302.2 499.3L307.8 499.3L305 494.5Z" fill="#62a83a"/>
<text x="316.5" y="500.5" font-size="12.8" textLength="108.9" lengthAdjust="spacingAndGlyphs" fill="#1a1a1a" stroke="#1a1a1a" stroke-width="0.2">BM+1M T+GNF362</text>
<text x="10.4" y="543.8" font-size="19.5" font-weight="bold" fill="#000">C</text>
<text x="106.6" y="561.9" font-size="15.8" textLength="18.5" lengthAdjust="spacingAndGlyphs" fill="#1a1a1a">B6</text>
<path d="M125.8 557.5H139.3M135.5 553.3L139.7 557.5L135.5 561.7" fill="none" stroke="#1a1a1a" stroke-width="1.15"/>
<text x="139.8" y="561.9" font-size="15.8" textLength="53" lengthAdjust="spacingAndGlyphs" fill="#1a1a1a">BALB/c</text>
<path d="M64.6 570.4V684.8H234.5" fill="none" stroke="#111" stroke-width="2"/>
<path d="M59.8 684.8H64.6" stroke="#111" stroke-width="1.4"/>
<text x="55" y="689.1" font-size="12" text-anchor="end" fill="#1a1a1a">0</text>
<path d="M59.8 657.35H64.6" stroke="#111" stroke-width="1.4"/>
<text x="55" y="661.65" font-size="12" text-anchor="end" fill="#1a1a1a">25</text>
<path d="M59.8 629.9H64.6" stroke="#111" stroke-width="1.4"/>
<text x="55" y="634.2" font-size="12" text-anchor="end" fill="#1a1a1a">50</text>
<path d="M59.8 602.45H64.6" stroke="#111" stroke-width="1.4"/>
<text x="55" y="606.75" font-size="12" text-anchor="end" fill="#1a1a1a">75</text>
<path d="M59.8 575H64.6" stroke="#111" stroke-width="1.4"/>
<text x="55" y="579.3" font-size="12" text-anchor="end" fill="#1a1a1a">100</text>
<path d="M64.6 684.8V689.6" stroke="#111" stroke-width="1.4"/>
<text x="64.6" y="705.8" font-size="12" text-anchor="middle" fill="#1a1a1a">0</text>
<path d="M105.8 684.8V689.6" stroke="#111" stroke-width="1.4"/>
<text x="105.8" y="705.8" font-size="12" text-anchor="middle" fill="#1a1a1a">25</text>
<path d="M147 684.8V689.6" stroke="#111" stroke-width="1.4"/>
<text x="147" y="705.8" font-size="12" text-anchor="middle" fill="#1a1a1a">50</text>
<path d="M188.2 684.8V689.6" stroke="#111" stroke-width="1.4"/>
<text x="188.2" y="705.8" font-size="12" text-anchor="middle" fill="#1a1a1a">75</text>
<path d="M229.4 684.8V689.6" stroke="#111" stroke-width="1.4"/>
<text x="229.4" y="705.8" font-size="12" text-anchor="middle" fill="#1a1a1a">100</text>
<text transform="translate(24.6 627.4) rotate(-90)" font-size="16.4" textLength="83.5" lengthAdjust="spacingAndGlyphs" text-anchor="middle" fill="#1a1a1a" stroke="#1a1a1a" stroke-width="0.35">Percent survival</text>
<text x="149.6" y="725.2" font-size="16.4" textLength="83.6" lengthAdjust="spacingAndGlyphs" text-anchor="middle" fill="#1a1a1a" stroke="#1a1a1a" stroke-width="0.35">Days POST-BMT</text>
<polyline points="74.6,602.8 74.6,602.8 74.6,616.55 138.5,616.55 138.5,630.3 211.4,630.3 211.4,657.8 229.4,657.8" fill="none" stroke="#62a83a" stroke-width="1.45" stroke-linejoin="miter"/>
<path d="M71.3 619.45L77.9 619.45L74.6 613.65Z" fill="#62a83a"/>
<path d="M135.2 633.2L141.8 633.2L138.5 627.4Z" fill="#62a83a"/>
<path d="M208.1 660.7L214.7 660.7L211.4 654.9Z" fill="#62a83a"/>
<path d="M226.1 660.7L232.7 660.7L229.4 654.9Z" fill="#62a83a"/>
<polyline points="72.7,575 72.7,575 72.7,589.05 74.6,589.05 74.6,602.8 105.8,602.8 105.8,616.55 120.8,616.55 120.8,630.3 122.3,630.3 122.3,644.05 125.6,644.05 125.6,657.8 133.8,657.8 133.8,685.3" fill="none" stroke="#a9002c" stroke-width="1.45" stroke-linejoin="miter"/>
<rect x="69.7" y="586.05" width="6" height="6" fill="#a9002c"/>
<rect x="71.6" y="599.8" width="6" height="6" fill="#a9002c"/>
<rect x="102.8" y="613.55" width="6" height="6" fill="#a9002c"/>
<rect x="117.8" y="627.3" width="6" height="6" fill="#a9002c"/>
<rect x="119.3" y="641.05" width="6" height="6" fill="#a9002c"/>
<rect x="122.6" y="654.8" width="6" height="6" fill="#a9002c"/>
<rect x="130.8" y="682.3" width="6" height="6" fill="#a9002c"/>
<path d="M64.6 575H229.4" stroke="#24427f" stroke-width="1.15"/>
<circle cx="229.4" cy="575.2" r="2.6" fill="#24427f"/>
<path d="M146.75 669.7H204.2" stroke="#111" stroke-width="1.8"/>
<path d="M143.75 669.7L149.35 666.8L148.05 669.7L149.35 672.6Z" fill="#111"/>
<path d="M207.2 669.7L201.6 666.8L202.9 669.7L201.6 672.6Z" fill="#111"/>
<polygon points="173.65,663.65 174.11,664.76 175.31,664.86 174.4,665.64 174.68,666.82 173.65,666.19 172.62,666.82 172.9,665.64 171.99,664.86 173.19,664.76" fill="#1a1a1a"/>
<polygon points="177.55,663.65 178.01,664.76 179.21,664.86 178.3,665.64 178.58,666.82 177.55,666.19 176.52,666.82 176.8,665.64 175.89,664.86 177.09,664.76" fill="#1a1a1a"/>
<path d="M317.7 568.5V685.2H488.6" fill="none" stroke="#111" stroke-width="2"/>
<path d="M312.9 685.2H317.7" stroke="#111" stroke-width="1.4"/>
<text x="307.8" y="689.5" font-size="12" text-anchor="end" fill="#1a1a1a">0</text>
<path d="M312.9 662.9H317.7" stroke="#111" stroke-width="1.4"/>
<text x="307.8" y="667.2" font-size="12" text-anchor="end" fill="#1a1a1a">5</text>
<path d="M312.9 640.6H317.7" stroke="#111" stroke-width="1.4"/>
<text x="307.8" y="644.9" font-size="12" text-anchor="end" fill="#1a1a1a">10</text>
<path d="M312.9 618.3H317.7" stroke="#111" stroke-width="1.4"/>
<text x="307.8" y="622.6" font-size="12" text-anchor="end" fill="#1a1a1a">15</text>
<path d="M312.9 596H317.7" stroke="#111" stroke-width="1.4"/>
<text x="307.8" y="600.3" font-size="12" text-anchor="end" fill="#1a1a1a">20</text>
<path d="M312.9 573.7H317.7" stroke="#111" stroke-width="1.4"/>
<text x="307.8" y="578" font-size="12" text-anchor="end" fill="#1a1a1a">25</text>
<path d="M317.7 685.2V690" stroke="#111" stroke-width="1.4"/>
<text x="317.7" y="705.8" font-size="12" text-anchor="middle" fill="#1a1a1a">0</text>
<path d="M359.3 685.2V690" stroke="#111" stroke-width="1.4"/>
<text x="359.3" y="705.8" font-size="12" text-anchor="middle" fill="#1a1a1a">25</text>
<path d="M400.9 685.2V690" stroke="#111" stroke-width="1.4"/>
<text x="400.9" y="705.8" font-size="12" text-anchor="middle" fill="#1a1a1a">50</text>
<path d="M442.5 685.2V690" stroke="#111" stroke-width="1.4"/>
<text x="442.5" y="705.8" font-size="12" text-anchor="middle" fill="#1a1a1a">75</text>
<path d="M484.1 685.2V690" stroke="#111" stroke-width="1.4"/>
<text x="484.1" y="705.8" font-size="12" text-anchor="middle" fill="#1a1a1a">100</text>
<text transform="translate(285.5 626.8) rotate(-90)" font-size="16.4" textLength="79" lengthAdjust="spacingAndGlyphs" text-anchor="middle" fill="#1a1a1a" stroke="#1a1a1a" stroke-width="0.35">Weights (gms)</text>
<text x="402.4" y="725" font-size="16.4" textLength="82" lengthAdjust="spacingAndGlyphs" text-anchor="middle" fill="#1a1a1a" stroke="#1a1a1a" stroke-width="0.35">Days POST-BMT</text>
<polyline points="317.3,600.2 323.5,614 328.8,614 334,606.3 340.4,606 345.6,603.5 351.9,607.7 357.3,607.7 364,611.7 383.7,619.2 395.8,616 407.3,619.2 419.4,616 431,617.3 442.5,616.9 454.4,614.6 467.9,614" fill="none" stroke="#62a83a" stroke-width="1.4" stroke-linejoin="miter"/>
<path d="M323.5 611V617M320.5 611H326.5M320.5 617H326.5" stroke="#62a83a" stroke-width="1.2" fill="none"/>
<path d="M334 603.3V609.3M331 603.3H337M331 609.3H337" stroke="#62a83a" stroke-width="1.2" fill="none"/>
<path d="M340.4 603V609M337.4 603H343.4M337.4 609H343.4" stroke="#62a83a" stroke-width="1.2" fill="none"/>
<path d="M345.6 599.5V607.5M342.6 599.5H348.6M342.6 607.5H348.6" stroke="#62a83a" stroke-width="1.2" fill="none"/>
<path d="M351.9 604.2V611.2M348.9 604.2H354.9M348.9 611.2H354.9" stroke="#62a83a" stroke-width="1.2" fill="none"/>
<path d="M357.3 604.2V611.2M354.3 604.2H360.3M354.3 611.2H360.3" stroke="#62a83a" stroke-width="1.2" fill="none"/>
<path d="M364 607.7V615.7M361 607.7H367M361 615.7H367" stroke="#62a83a" stroke-width="1.2" fill="none"/>
<path d="M383.7 615.2V623.2M380.7 615.2H386.7M380.7 623.2H386.7" stroke="#62a83a" stroke-width="1.2" fill="none"/>
<path d="M395.8 611.5V620.5M392.8 611.5H398.8M392.8 620.5H398.8" stroke="#62a83a" stroke-width="1.2" fill="none"/>
<path d="M407.3 615.2V623.2M404.3 615.2H410.3M404.3 623.2H410.3" stroke="#62a83a" stroke-width="1.2" fill="none"/>
<path d="M419.4 610.5V621.5M416.4 610.5H422.4M416.4 621.5H422.4" stroke="#62a83a" stroke-width="1.2" fill="none"/>
<path d="M431 611.3V623.3M428 611.3H434M428 623.3H434" stroke="#62a83a" stroke-width="1.2" fill="none"/>
<path d="M442.5 611.4V622.4M439.5 611.4H445.5M439.5 622.4H445.5" stroke="#62a83a" stroke-width="1.2" fill="none"/>
<path d="M454.4 608.6V620.6M451.4 608.6H457.4M451.4 620.6H457.4" stroke="#62a83a" stroke-width="1.2" fill="none"/>
<path d="M467.9 602.5V625.5M464.9 602.5H470.9M464.9 625.5H470.9" stroke="#62a83a" stroke-width="1.2" fill="none"/>
<path d="M314.2 602.63L320.4 602.63L317.3 597.23Z" fill="#62a83a"/>
<path d="M320.4 616.43L326.6 616.43L323.5 611.03Z" fill="#62a83a"/>
<path d="M325.7 616.43L331.9 616.43L328.8 611.03Z" fill="#62a83a"/>
<path d="M330.9 608.73L337.1 608.73L334 603.33Z" fill="#62a83a"/>
<path d="M337.3 608.43L343.5 608.43L340.4 603.03Z" fill="#62a83a"/>
<path d="M342.5 605.93L348.7 605.93L345.6 600.53Z" fill="#62a83a"/>
<path d="M348.8 610.13L355 610.13L351.9 604.73Z" fill="#62a83a"/>
<path d="M354.2 610.13L360.4 610.13L357.3 604.73Z" fill="#62a83a"/>
<path d="M360.9 614.13L367.1 614.13L364 608.73Z" fill="#62a83a"/>
<path d="M380.6 621.63L386.8 621.63L383.7 616.23Z" fill="#62a83a"/>
<path d="M392.7 618.43L398.9 618.43L395.8 613.03Z" fill="#62a83a"/>
<path d="M404.2 621.63L410.4 621.63L407.3 616.23Z" fill="#62a83a"/>
<path d="M416.3 618.43L422.5 618.43L419.4 613.03Z" fill="#62a83a"/>
<path d="M427.9 619.73L434.1 619.73L431 614.33Z" fill="#62a83a"/>
<path d="M439.4 619.33L445.6 619.33L442.5 613.93Z" fill="#62a83a"/>
<path d="M451.3 617.03L457.5 617.03L454.4 611.63Z" fill="#62a83a"/>
<path d="M464.8 616.43L471 616.43L467.9 611.03Z" fill="#62a83a"/>
<polyline points="317.3,598.7 323.5,613.1 328.8,618.5 334,611.2 340.4,611.7 345.6,613.5 351.9,614 357.3,616.9 364,627.5 383.7,633.8" fill="none" stroke="#a9002c" stroke-width="1.4" stroke-linejoin="miter"/>
<rect x="314.7" y="596.1" width="5.2" height="5.2" fill="#a9002c"/>
<rect x="320.9" y="610.5" width="5.2" height="5.2" fill="#a9002c"/>
<rect x="326.2" y="615.9" width="5.2" height="5.2" fill="#a9002c"/>
<rect x="331.4" y="608.6" width="5.2" height="5.2" fill="#a9002c"/>
<rect x="337.8" y="609.1" width="5.2" height="5.2" fill="#a9002c"/>
<rect x="343" y="610.9" width="5.2" height="5.2" fill="#a9002c"/>
<rect x="349.3" y="611.4" width="5.2" height="5.2" fill="#a9002c"/>
<rect x="354.7" y="614.3" width="5.2" height="5.2" fill="#a9002c"/>
<rect x="361.4" y="624.9" width="5.2" height="5.2" fill="#a9002c"/>
<rect x="381.1" y="631.2" width="5.2" height="5.2" fill="#a9002c"/>
<polyline points="317.3,590.6 323.5,595.8 328.8,597.7 334,599.2 340.4,593.8 345.6,591.3 351.9,595.2 357.3,598.7 364,600 383.7,602.5 395.8,604.4 407.3,603.5 419.4,600 431,601.9 442.5,601.2 454.4,600.6 467.9,599.2" fill="none" stroke="#24427f" stroke-width="1.4" stroke-linejoin="miter"/>
<path d="M357.3 595.7V601.7M354.3 595.7H360.3M354.3 601.7H360.3" stroke="#24427f" stroke-width="1.2" fill="none"/>
<path d="M364 596.5V603.5M361 596.5H367M361 603.5H367" stroke="#24427f" stroke-width="1.2" fill="none"/>
<path d="M383.7 598V607M380.7 598H386.7M380.7 607H386.7" stroke="#24427f" stroke-width="1.2" fill="none"/>
<path d="M395.8 599.9V608.9M392.8 599.9H398.8M392.8 608.9H398.8" stroke="#24427f" stroke-width="1.2" fill="none"/>
<path d="M407.3 599V608M404.3 599H410.3M404.3 608H410.3" stroke="#24427f" stroke-width="1.2" fill="none"/>
<path d="M419.4 595V605M416.4 595H422.4M416.4 605H422.4" stroke="#24427f" stroke-width="1.2" fill="none"/>
<path d="M431 596.4V607.4M428 596.4H434M428 607.4H434" stroke="#24427f" stroke-width="1.2" fill="none"/>
<path d="M442.5 594.7V607.7M439.5 594.7H445.5M439.5 607.7H445.5" stroke="#24427f" stroke-width="1.2" fill="none"/>
<path d="M454.4 593.1V608.1M451.4 593.1H457.4M451.4 608.1H457.4" stroke="#24427f" stroke-width="1.2" fill="none"/>
<path d="M467.9 590.9V607.5M464.9 590.9H470.9M464.9 607.5H470.9" stroke="#24427f" stroke-width="1.2" fill="none"/>
<circle cx="317.3" cy="590.6" r="2.7" fill="#24427f"/>
<circle cx="323.5" cy="595.8" r="2.7" fill="#24427f"/>
<circle cx="328.8" cy="597.7" r="2.7" fill="#24427f"/>
<circle cx="334" cy="599.2" r="2.7" fill="#24427f"/>
<circle cx="340.4" cy="593.8" r="2.7" fill="#24427f"/>
<circle cx="345.6" cy="591.3" r="2.7" fill="#24427f"/>
<circle cx="351.9" cy="595.2" r="2.7" fill="#24427f"/>
<circle cx="357.3" cy="598.7" r="2.7" fill="#24427f"/>
<circle cx="364" cy="600" r="2.7" fill="#24427f"/>
<circle cx="383.7" cy="602.5" r="2.7" fill="#24427f"/>
<circle cx="395.8" cy="604.4" r="2.7" fill="#24427f"/>
<circle cx="407.3" cy="603.5" r="2.7" fill="#24427f"/>
<circle cx="419.4" cy="600" r="2.7" fill="#24427f"/>
<circle cx="431" cy="601.9" r="2.7" fill="#24427f"/>
<circle cx="442.5" cy="601.2" r="2.7" fill="#24427f"/>
<circle cx="454.4" cy="600.6" r="2.7" fill="#24427f"/>
<circle cx="467.9" cy="599.2" r="2.7" fill="#24427f"/>
<polygon points="341.2,619.55 341.66,620.66 342.86,620.76 341.95,621.54 342.23,622.72 341.2,622.09 340.17,622.72 340.45,621.54 339.54,620.76 340.74,620.66" fill="#1a1a1a"/>
<polygon points="345.2,619.55 345.66,620.66 346.86,620.76 345.95,621.54 346.23,622.72 345.2,622.09 344.17,622.72 344.45,621.54 343.54,620.76 344.74,620.66" fill="#1a1a1a"/>
<polygon points="350.1,622.95 350.56,624.06 351.76,624.16 350.85,624.94 351.13,626.12 350.1,625.49 349.07,626.12 349.35,624.94 348.44,624.16 349.64,624.06" fill="#1a1a1a"/>
<polygon points="354.1,622.95 354.56,624.06 355.76,624.16 354.85,624.94 355.13,626.12 354.1,625.49 353.07,626.12 353.35,624.94 352.44,624.16 353.64,624.06" fill="#1a1a1a"/>
<polygon points="363.6,618.65 364.06,619.76 365.26,619.86 364.35,620.64 364.63,621.82 363.6,621.19 362.57,621.82 362.85,620.64 361.94,619.86 363.14,619.76" fill="#1a1a1a"/>
<polygon points="367.6,618.65 368.06,619.76 369.26,619.86 368.35,620.64 368.63,621.82 367.6,621.19 366.57,621.82 366.85,620.64 365.94,619.86 367.14,619.76" fill="#1a1a1a"/>
<polygon points="357.4,633.35 357.86,634.46 359.06,634.56 358.15,635.34 358.43,636.52 357.4,635.89 356.37,636.52 356.65,635.34 355.74,634.56 356.94,634.46" fill="#1a1a1a"/>
<polygon points="361.4,633.35 361.86,634.46 363.06,634.56 362.15,635.34 362.43,636.52 361.4,635.89 360.37,636.52 360.65,635.34 359.74,634.56 360.94,634.46" fill="#1a1a1a"/>
<polygon points="365.4,633.35 365.86,634.46 367.06,634.56 366.15,635.34 366.43,636.52 365.4,635.89 364.37,636.52 364.65,635.34 363.74,634.56 364.94,634.46" fill="#1a1a1a"/>
<polygon points="369.4,633.35 369.86,634.46 371.06,634.56 370.15,635.34 370.43,636.52 369.4,635.89 368.37,636.52 368.65,635.34 367.74,634.56 368.94,634.46" fill="#1a1a1a"/>
<path d="M93.5 752.3H105" stroke="#24427f" stroke-width="1.6"/>
<circle cx="99.25" cy="752.3" r="2.5" fill="#24427f"/>
<text x="110.8" y="755.9" font-size="12.8" textLength="17.2" lengthAdjust="spacingAndGlyphs" fill="#1a1a1a" stroke="#1a1a1a" stroke-width="0.2">BM</text>
<path d="M153 752.3H165.4" stroke="#a9002c" stroke-width="1.6"/>
<rect x="157" y="750.1" width="4.4" height="4.4" fill="#a9002c"/>
<text x="171.5" y="755.9" font-size="12.8" textLength="99.5" lengthAdjust="spacingAndGlyphs" fill="#1a1a1a" stroke="#1a1a1a" stroke-width="0.2">BM+2M T+Vehicle</text>
<path d="M297.3 752.3H310" stroke="#62a83a" stroke-width="1.6"/>
<path d="M300.85 754.7L306.45 754.7L303.65 749.9Z" fill="#62a83a"/>
<text x="314.6" y="755.9" font-size="12.8" textLength="107.7" lengthAdjust="spacingAndGlyphs" fill="#1a1a1a" stroke="#1a1a1a" stroke-width="0.2">BM+2M T+GNF362</text>
<rect x="0.5" y="0.5" width="519" height="766" fill="none" stroke="#000" stroke-width="1"/>
<rect x="1.5" y="1.5" width="517" height="764" fill="none" stroke="#000" stroke-opacity="0.45" stroke-width="1"/>
</svg></body></html>
